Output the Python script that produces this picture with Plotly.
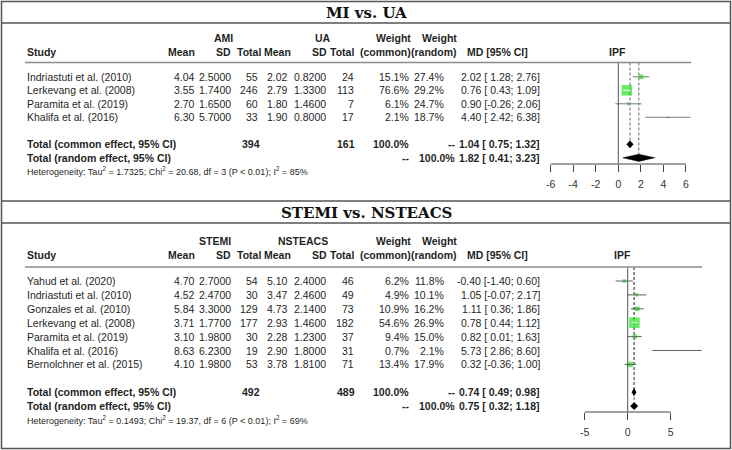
import plotly.graph_objects as go

W, H = 732, 450

# ---------------- data: panel 1 (MI vs. UA) ----------------
p1_title = "MI vs. UA"
p1_group_e = "AMI"
p1_group_c = "UA"
p1_studies = ["Indriastuti et al. (2010)", "Lerkevang et al. (2008)",
              "Paramita et al. (2019)", "Khalifa et al. (2016)"]
p1_mean_e = [4.04, 3.55, 2.70, 6.30]
p1_sd_e = [2.5000, 1.7400, 1.6500, 5.7000]
p1_n_e = [55, 246, 60, 33]
p1_mean_c = [2.02, 2.79, 1.80, 1.90]
p1_sd_c = [0.8200, 1.3300, 1.4600, 0.8000]
p1_n_c = [24, 113, 7, 17]
p1_w_common = [15.1, 76.6, 6.1, 2.1]
p1_w_random = [27.4, 29.2, 24.7, 18.7]
p1_md = [2.02, 0.76, 0.90, 4.40]
p1_lo = [1.28, 0.43, -0.26, 2.42]
p1_hi = [2.76, 1.09, 2.06, 6.38]
p1_common = [1.04, 0.75, 1.32]
p1_random = [1.82, 0.41, 3.23]
p1_totals = [394, 161]
p1_het = ["1.7325", "20.68", "3", "0.01", "85%"]
p1_ticks = [-6, -4, -2, 0, 2, 4, 6]

# ---------------- data: panel 2 (STEMI vs. NSTEACS) ----------------
p2_title = "STEMI vs. NSTEACS"
p2_group_e = "STEMI"
p2_group_c = "NSTEACS"
p2_studies = ["Yahud et al. (2020)", "Indriastuti et al. (2010)", "Gonzales et al. (2010)",
              "Lerkevang et al. (2008)", "Paramita et al. (2019)", "Khalifa et al. (2016)",
              "Bernolchner et al. (2015)"]
p2_mean_e = [4.70, 4.52, 5.84, 3.71, 3.10, 8.63, 4.10]
p2_sd_e = [2.7000, 2.4700, 3.3000, 1.7700, 1.9800, 6.2300, 1.9800]
p2_n_e = [54, 30, 129, 177, 30, 19, 53]
p2_mean_c = [5.10, 3.47, 4.73, 2.93, 2.28, 2.90, 3.78]
p2_sd_c = [2.4000, 2.4600, 2.1400, 1.4600, 1.2300, 1.8000, 1.8100]
p2_n_c = [46, 49, 73, 182, 37, 31, 71]
p2_w_common = [6.2, 4.9, 10.9, 54.6, 9.4, 0.7, 13.4]
p2_w_random = [11.8, 10.1, 16.2, 26.9, 15.0, 2.1, 17.9]
p2_md = [-0.40, 1.05, 1.11, 0.78, 0.82, 5.73, 0.32]
p2_lo = [-1.40, -0.07, 0.36, 0.44, 0.01, 2.86, -0.36]
p2_hi = [0.60, 2.17, 1.86, 1.12, 1.63, 8.60, 1.00]
p2_common = [0.74, 0.49, 0.98]
p2_random = [0.75, 0.32, 1.18]
p2_totals = [492, 489]
p2_het = ["0.1493", "19.37", "6", "0.01", "69%"]
p2_ticks = [-5, 0, 5]

# ---------------- styling / layout geometry (pixels) ----------------
FONT = "Liberation Sans"
TXT = "#1f1f1f"
GREEN = "#22e622"
FS = 10.5

panels = [
    dict(title=p1_title, ge=p1_group_e, gc=p1_group_c, studies=p1_studies,
         mean_e=p1_mean_e, sd_e=p1_sd_e, n_e=p1_n_e, mean_c=p1_mean_c, sd_c=p1_sd_c,
         n_c=p1_n_c, wc=p1_w_common, wr=p1_w_random, md=p1_md, lo=p1_lo, hi=p1_hi,
         common=p1_common, random=p1_random, totals=p1_totals, het=p1_het, ticks=p1_ticks,
         geo=dict(top=0, bot=201, title_y=12.5, grp_y=38, hdr_y=52, hline=62.5, hline_x1=691,
                  row0=76.8, rowh=13.5, zero=618.3, ppu=11.28, axis=164, ipf_x=617,
                  ge_x=223, gc_x=323, ci_col="#7a7a7a")),
    dict(title=p2_title, ge=p2_group_e, gc=p2_group_c, studies=p2_studies,
         mean_e=p2_mean_e, sd_e=p2_sd_e, n_e=p2_n_e, mean_c=p2_mean_c, sd_c=p2_sd_c,
         n_c=p2_n_c, wc=p2_w_common, wr=p2_w_random, md=p2_md, lo=p2_lo, hi=p2_hi,
         common=p2_common, random=p2_random, totals=p2_totals, het=p2_het, ticks=p2_ticks,
         geo=dict(top=201, bot=450, title_y=212.5, grp_y=241, hdr_y=254.5, hline=267, hline_x1=702,
                  row0=281, rowh=13.9, zero=627.7, ppu=8.6, axis=412, ipf_x=622,
                  ge_x=215, gc_x=303, ci_col="#606060")),
]

XL, XR = 470, 731  # forest subplot horizontal extent (px)

fig = go.Figure()
annotations = []
shapes = []


def px(x):
    return x / W


def py(y):
    return 1 - y / H


def txt(s, x, y, anchor="right", bold=False, size=FS, yref="paper", font=FONT, color=TXT):
    annotations.append(dict(
        text=f"<b>{s}</b>" if bold else s, x=px(x), y=y, xref="paper", yref=yref,
        xanchor=anchor, yanchor="middle", showarrow=False,
        font=dict(family=font, size=size, color=color)))


def fmt_ci(est, lo, hi):
    return f"{est:.2f} [{lo:5.2f}; {hi:.2f}]"


layout_axes = {}
for k, p in enumerate(panels, start=1):
    g = p["geo"]
    sfx = "" if k == 1 else str(k)
    xname, yname = "x" + sfx, "y" + sfx
    n = len(p["studies"])

    def rr(pix):
        return (pix - g["row0"]) / g["rowh"]

    # axes
    layout_axes["xaxis" + sfx] = dict(
        domain=[px(XL), px(XR)],
        range=[(XL - g["zero"]) / g["ppu"], (XR - g["zero"]) / g["ppu"]],
        anchor="free", position=py(g["axis"]), showgrid=False, zeroline=False,
        showline=False, ticks="outside", ticklen=7, tickwidth=1, tickcolor="#444",
        tickvals=p["ticks"], ticktext=[str(t) for t in p["ticks"]],
        tickfont=dict(family=FONT, size=10.5, color="#333"), ticklabelstandoff=3,
        fixedrange=True)
    layout_axes["yaxis" + sfx] = dict(
        domain=[py(g["bot"]), py(g["top"])],
        range=[rr(g["bot"]), rr(g["top"])],
        visible=False, fixedrange=True, anchor=xname)

    # axis base line
    shapes.append(dict(type="line", xref=xname, yref="paper", x0=min(p["ticks"]),
                       x1=max(p["ticks"]), y0=py(g["axis"]), y1=py(g["axis"]),
                       line=dict(color="#444", width=1)))
    # null line
    shapes.append(dict(type="line", xref=xname, yref=yname, x0=0, x1=0,
                       y0=rr(g["hline"]), y1=rr(g["axis"]), line=dict(color="#555", width=1)))
    # dashed pooled-estimate lines
    for est, row in ((p["common"][0], n + 1), (p["random"][0], n + 2)):
        fig.add_trace(go.Scatter(x=[est, est], y=[rr(g["hline"]), row], mode="lines",
                                 line=dict(color="#666", width=1, dash="3px,2px"),
                                 xaxis=xname, yaxis=yname, hoverinfo="skip", showlegend=False))

    # squares
    wmax = max(p["wc"])
    sizes = [10.5 * (w / wmax) ** 0.5 for w in p["wc"]]
    fig.add_trace(go.Scatter(x=p["md"], y=list(range(n)), mode="markers",
                             marker=dict(symbol="square", color=GREEN, size=sizes,
                                         line=dict(width=0)),
                             xaxis=xname, yaxis=yname, hoverinfo="skip", showlegend=False))
    # CI lines (gray outside squares, white when the CI fits inside the square)
    for inside, col in ((False, g["ci_col"]), (True, "white")):
        xs, ys = [], []
        for i in range(n):
            fits = (p["hi"][i] - p["lo"][i]) * g["ppu"] < sizes[i]
            if fits == inside:
                xs += [p["lo"][i], p["hi"][i], None]
                ys += [i, i, None]
        if xs:
            fig.add_trace(go.Scatter(x=xs, y=ys, mode="lines", line=dict(color=col, width=1),
                                     xaxis=xname, yaxis=yname, hoverinfo="skip",
                                     showlegend=False))
    # diamonds
    hh = 3.6 / g["rowh"]
    for (est, lo, hi), row in ((p["common"], n + 1), (p["random"], n + 2)):
        fig.add_trace(go.Scatter(x=[lo, est, hi, est, lo], y=[row, row - hh, row, row + hh, row],
                                 mode="lines", fill="toself", fillcolor="black",
                                 line=dict(color="black", width=0.5),
                                 xaxis=xname, yaxis=yname, hoverinfo="skip", showlegend=False))

    # ---- title ----
    txt(p["title"], 366, py(g["title_y"]), anchor="center", bold=True, size=15,
        font="DejaVu Serif", color="#111")

    # ---- headers ----
    gy, hy = py(g["grp_y"]), py(g["hdr_y"])
    txt(p["ge"], g["ge_x"], gy, anchor="center", bold=True)
    txt(p["gc"], g["gc_x"], gy, anchor="center", bold=True)
    txt("Weight", 413, gy, bold=True)
    txt("Weight", 459, gy, bold=True)
    txt("Study", 25, hy, anchor="left", bold=True)
    for label, xr in (("Mean", 197), ("SD", 233), ("Total", 263), ("Mean", 293),
                      ("SD", 329), ("Total", 356), ("(common)", 413), ("(random)", 459)):
        txt(label, xr, hy, bold=True)
    txt("MD [95% CI]", 497, hy, anchor="center", bold=True)
    txt("IPF", g["ipf_x"], hy, anchor="center", bold=True)
    shapes.append(dict(type="line", xref="paper", yref="paper", x0=px(25), x1=px(g["hline_x1"]),
                       y0=py(g["hline"]), y1=py(g["hline"]), line=dict(color="#8c8c8c", width=1.3)))

    # ---- study rows ----
    for i in range(n):
        txt(p["studies"][i], 25, i, anchor="left", yref=yname)
        txt(f"{p['mean_e'][i]:.2f}", 197, i, yref=yname)
        txt(f"{p['sd_e'][i]:.4f}", 233, i, yref=yname)
        txt(str(p["n_e"][i]), 260, i, yref=yname)
        txt(f"{p['mean_c'][i]:.2f}", 290, i, yref=yname)
        txt(f"{p['sd_c'][i]:.4f}", 328, i, yref=yname)
        txt(str(p["n_c"][i]), 356, i, yref=yname)
        txt(f"{p['wc'][i]:.1f}%", 411, i, yref=yname)
        txt(f"{p['wr'][i]:.1f}%", 446, i, yref=yname)
        txt(fmt_ci(p["md"][i], p["lo"][i], p["hi"][i]), 542, i, yref=yname)

    # ---- pooled rows ----
    rc, rran = n + 1, n + 2
    txt("Total (common effect, 95% CI)", 25, rc, anchor="left", bold=True, yref=yname)
    txt(str(p["totals"][0]), 262, rc, bold=True, yref=yname)
    txt(str(p["totals"][1]), 357, rc, bold=True, yref=yname)
    txt("100.0%", 411, rc, bold=True, yref=yname)
    txt("--", 457, rc, bold=True, yref=yname)
    txt(fmt_ci(*p["common"]), 542, rc, bold=True, yref=yname)
    txt("Total (random effect, 95% CI)", 25, rran, anchor="left", bold=True, yref=yname)
    txt("--", 411, rran, bold=True, yref=yname)
    txt("100.0%", 457, rran, bold=True, yref=yname)
    txt(fmt_ci(*p["random"]), 542, rran, bold=True, yref=yname)
    h = p["het"]
    txt(f"Heterogeneity: Tau<sup>2</sup> = {h[0]}; Chi<sup>2</sup> = {h[1]}, df = {h[2]} "
        f"(P &lt; {h[3]}); I<sup>2</sup> = {h[4]}", 25, n + 3, anchor="left", size=9,
        yref=yname)

# ---- frame lines ----
BC = "#555"
shapes.append(dict(type="rect", xref="paper", yref="paper", x0=px(1.5), x1=px(730.5),
                   y0=py(448.5), y1=py(1.5), line=dict(color=BC, width=1.5)))
for yy in (23, 201, 223):
    shapes.append(dict(type="line", xref="paper", yref="paper", x0=px(1.5), x1=px(730.5),
                       y0=py(yy), y1=py(yy), line=dict(color=BC, width=1.5)))

fig.update_layout(
    width=W, height=H, margin=dict(l=0, r=0, t=0, b=0),
    paper_bgcolor="white", plot_bgcolor="rgba(0,0,0,0)",
    showlegend=False, annotations=annotations, shapes=shapes, **layout_axes)

fig.write_html("out.html", config={"displayModeBar": False},
               post_script="document.body.style.margin='0px';")
